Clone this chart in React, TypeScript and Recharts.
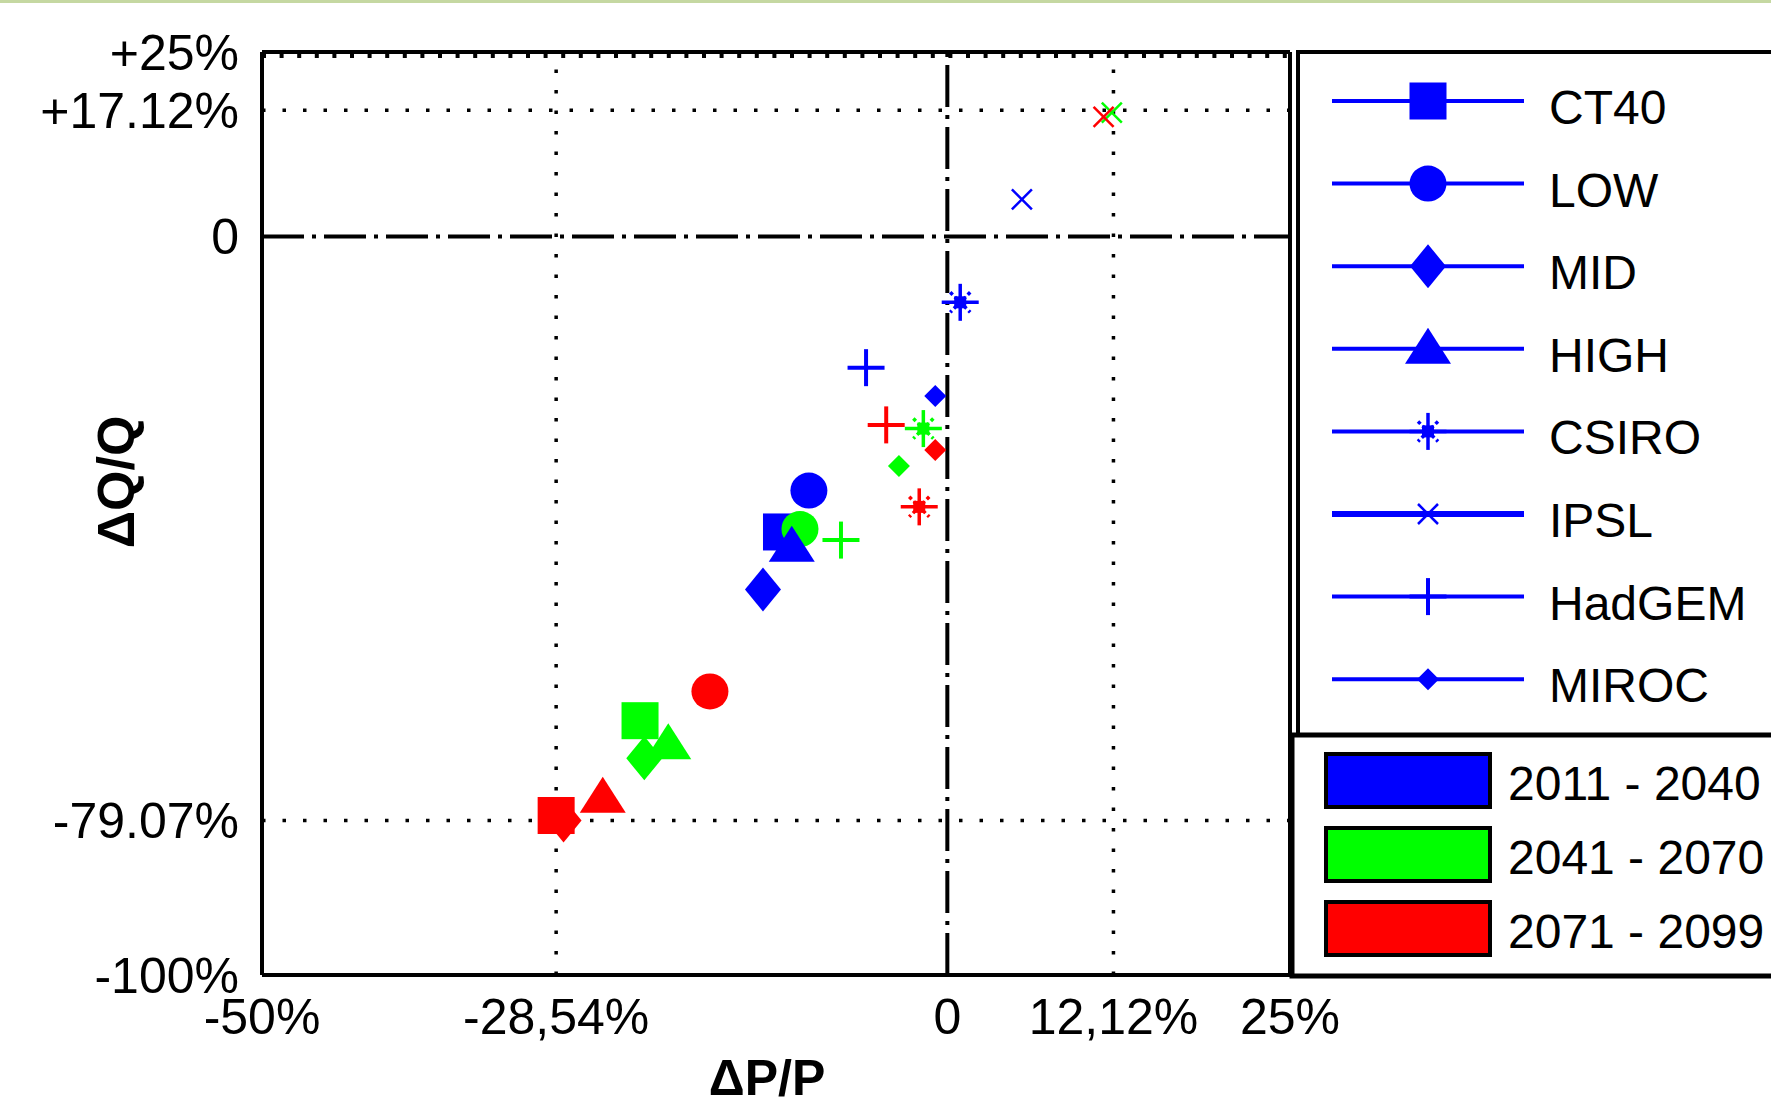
import React from 'react';
import {
  ScatterChart,
  Scatter,
  XAxis,
  YAxis,
  ReferenceLine,
  Legend,
  Label,
} from 'recharts';

const FONT = "'Liberation Sans', Arial, Helvetica, sans-serif";

// scenarios / models, in drawing order
const models = ['CT40', 'LOW', 'MID', 'HIGH', 'CSIRO', 'IPSL', 'HadGEM', 'MIROC'];
const markerKinds = ['square', 'circle', 'diamond', 'triangle', 'asterisk', 'cross', 'plus', 'smallDiamond'];

const periods = ['2011 - 2040', '2041 - 2070', '2071 - 2099'];
const periodColors = ['#0000ff', '#00ff00', '#ff0000'];

// ΔP/P (%) per model, one array per period
const dP_2011 = [-12.1, -10.1, -13.45, -11.35, 0.94, 5.44, -5.93, -0.88];
const dP_2041 = [-22.42, -10.75, -22.11, -20.36, -1.75, 12.0, -7.76, -3.53];
const dP_2071 = [-28.54, -17.32, -28.0, -25.14, -2.05, 11.4, -4.46, -0.88];

// ΔQ/Q (%) per model, one array per period
const dQ_2011 = [-40.0, -34.4, -47.8, -42.0, -8.9, 5.05, -17.75, -21.6];
const dQ_2041 = [-65.56, -39.6, -70.66, -68.76, -26.0, 16.8, -41.1, -31.07];
const dQ_2071 = [-78.4, -61.6, -79.07, -75.99, -36.6, 16.2, -25.5, -28.9];

const dP = [dP_2011, dP_2041, dP_2071];
const dQ = [dQ_2011, dQ_2041, dQ_2071];

const xTicks = [-50, -28.54, 0, 12.12, 25];
const xTickLabels = ['-50%', '-28,54%', '0', '12,12%', '25%'];
const yTicks = [-100, -79.07, 0, 17.12, 25];
const yTickLabels = ['-100%', '-79.07%', '0', '+17.12%', '+25%'];

const seriesData = models.map((m, i) =>
  periods.map((p, j) => ({ x: dP[j][i], y: dQ[j][i], color: periodColors[j], period: p }))
);

function Marker({ kind, cx, cy, color }: { kind: string; cx: number; cy: number; color: string }) {
  switch (kind) {
    case 'square':
      return <rect x={cx - 18.5} y={cy - 18.5} width={37} height={37} fill={color} />;
    case 'circle':
      return <ellipse cx={cx} cy={cy} rx={18.5} ry={18} fill={color} />;
    case 'diamond':
      return (
        <polygon
          points={`${cx},${cy - 22} ${cx + 18},${cy} ${cx},${cy + 22} ${cx - 18},${cy}`}
          fill={color}
        />
      );
    case 'triangle':
      return (
        <polygon
          points={`${cx},${cy - 21} ${cx + 23},${cy + 15} ${cx - 23},${cy + 15}`}
          fill={color}
        />
      );
    case 'asterisk':
      return (
        <g stroke={color} strokeWidth={3.5}>
          <line x1={cx - 18.5} y1={cy} x2={cx + 18.5} y2={cy} />
          <line x1={cx} y1={cy - 18.5} x2={cx} y2={cy + 18.5} />
          <line x1={cx - 10} y1={cy - 10} x2={cx + 10} y2={cy + 10} strokeDasharray="3.5 3" />
          <line x1={cx + 10} y1={cy - 10} x2={cx - 10} y2={cy + 10} strokeDasharray="3.5 3" />
          <rect x={cx - 6} y={cy - 6} width={12} height={12} fill={color} stroke="none" />
        </g>
      );
    case 'cross':
      return (
        <g stroke={color} strokeWidth={2.5}>
          <line x1={cx - 10} y1={cy - 10} x2={cx + 10} y2={cy + 10} />
          <line x1={cx + 10} y1={cy - 10} x2={cx - 10} y2={cy + 10} />
        </g>
      );
    case 'plus':
      return (
        <g stroke={color} strokeWidth={4}>
          <line x1={cx - 18.5} y1={cy} x2={cx + 18.5} y2={cy} />
          <line x1={cx} y1={cy - 18.5} x2={cx} y2={cy + 18.5} />
        </g>
      );
    case 'smallDiamond':
      return (
        <polygon
          points={`${cx},${cy - 11} ${cx + 11},${cy} ${cx},${cy + 11} ${cx - 11},${cy}`}
          fill={color}
        />
      );
    default:
      return null;
  }
}

function LegendBoxes() {
  return (
    <svg
      width={1771}
      height={1112}
      style={{ position: 'absolute', left: 0, top: 0, pointerEvents: 'none' }}
    >
      {/* model legend */}
      <rect x={1298} y={52} width={600} height={683} fill="#fff" stroke="#000" strokeWidth={4} />
      {models.map((m, i) => {
        const y = 101 + i * 82.6;
        return (
          <g key={m}>
            <line
              x1={1332}
              x2={1524}
              y1={y}
              y2={y}
              stroke="#0000ff"
              strokeWidth={m === 'IPSL' ? 6 : 4}
            />
            <Marker kind={markerKinds[i]} cx={1428} cy={y} color="#0000ff" />
            <text x={1549} y={y + 23} fontSize={48} fontFamily={FONT} fill="#000">
              {m}
            </text>
          </g>
        );
      })}
      {/* period legend */}
      <rect x={1292} y={735} width={600} height={241} fill="#fff" stroke="#000" strokeWidth={5} />
      {periods.map((p, j) => {
        const y = 754 + j * 74;
        return (
          <g key={p}>
            <rect x={1326} y={y} width={164} height={53} fill={periodColors[j]} stroke="#000" strokeWidth={4} />
            <text x={1508} y={y + 46} fontSize={48} fontFamily={FONT} fill="#000">
              {p}
            </text>
          </g>
        );
      })}
    </svg>
  );
}

export default function App() {
  return (
    <div
      style={{
        position: 'absolute',
        left: 0,
        top: 0,
        width: 1771,
        height: 1112,
        overflow: 'hidden',
        background: '#fff',
      }}
    >
      <div style={{ position: 'absolute', left: 0, top: 0, width: 1771, height: 3, background: '#c5d8a2' }} />
      <ScatterChart width={1771} height={1112} margin={{ top: 52, right: 481, bottom: 7, left: 0 }}>
        <XAxis
          type="number"
          dataKey="x"
          domain={[-50, 25]}
          ticks={xTicks}
          interval={0}
          allowDataOverflow
          height={130}
          axisLine={{ stroke: '#000', strokeWidth: 4 }}
          tickLine={false}
          tickSize={0}
          tickMargin={23}
          tick={{ fontSize: 50, fill: '#000', fontFamily: FONT }}
          tickFormatter={(v: number) => xTickLabels[xTicks.indexOf(v)] ?? String(v)}
        >
          <Label
            value="ΔP/P"
            position="insideBottom"
            offset={10}
            dx={-9}
            style={{ fontSize: 50, fontWeight: 'bold', fill: '#000', fontFamily: FONT }}
          />
        </XAxis>
        <YAxis
          type="number"
          dataKey="y"
          domain={[-100, 25]}
          ticks={yTicks}
          interval={0}
          allowDataOverflow
          width={262}
          axisLine={{ stroke: '#000', strokeWidth: 4 }}
          tickLine={false}
          tickSize={0}
          tickMargin={23}
          tick={{ fontSize: 50, fill: '#000', fontFamily: FONT }}
          tickFormatter={(v: number) => yTickLabels[yTicks.indexOf(v)] ?? String(v)}
        >
          <Label
            content={() => (
              <text
                x={134}
                y={482}
                transform="rotate(-90 134 482)"
                textAnchor="middle"
                fontSize={52}
                fontWeight="bold"
                fontFamily={FONT}
                fill="#000"
              >
                ΔQ/Q
              </text>
            )}
          />
        </YAxis>

        {/* frame */}
        <ReferenceLine y={25} stroke="#000" strokeWidth={4} />
        <ReferenceLine
          y={25}
          shape={(p: any) => (
            <line
              x1={p.x1}
              x2={p.x2}
              y1={p.y1 + 4}
              y2={p.y2 + 4}
              stroke="#000"
              strokeWidth={4}
              strokeDasharray="4 13.6"
            />
          )}
        />
        <ReferenceLine x={25} stroke="#000" strokeWidth={4} />

        {/* dotted guide lines */}
        <ReferenceLine y={17.12} stroke="#000" strokeWidth={3.5} strokeDasharray="3.5 17" />
        <ReferenceLine y={-79.07} stroke="#000" strokeWidth={3.5} strokeDasharray="3.5 17" />
        <ReferenceLine x={-28.54} stroke="#000" strokeWidth={3.5} strokeDasharray="3.5 17" />
        <ReferenceLine x={12.12} stroke="#000" strokeWidth={3.5} strokeDasharray="3.5 17" />

        {/* zero lines, dash-dot */}
        <ReferenceLine y={0} stroke="#000" strokeWidth={4} strokeDasharray="42 8 4 8" />
        <ReferenceLine x={0} stroke="#000" strokeWidth={4} strokeDasharray="42 8 4 8" />

        {models.map((m, i) => (
          <Scatter
            key={m}
            name={m}
            data={seriesData[i]}
            isAnimationActive={false}
            shape={(props: any) => (
              <Marker kind={markerKinds[i]} cx={props.cx} cy={props.cy} color={props.payload.color} />
            )}
          />
        ))}

        <Legend
          layout="vertical"
          align="center"
          verticalAlign="middle"
          wrapperStyle={{ left: 0, top: 0, width: 1771, height: 1112, pointerEvents: 'none' }}
          content={() => <LegendBoxes />}
        />
      </ScatterChart>
    </div>
  );
}
